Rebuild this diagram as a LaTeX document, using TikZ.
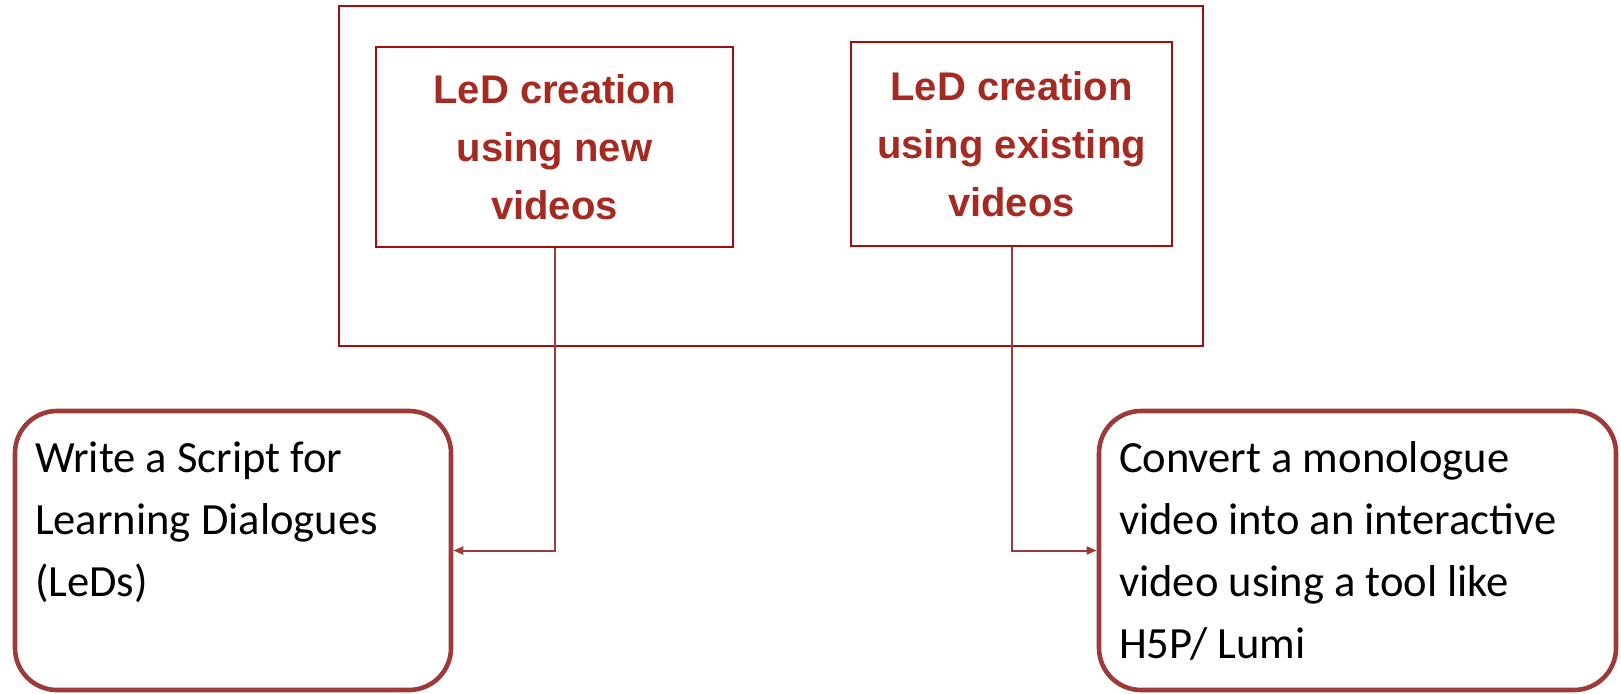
\documentclass[tikz,border=0pt]{standalone}
\usepackage{fontspec}
\setmainfont{Carlito}
\newfontfamily\headfont{Liberation Sans}
\usetikzlibrary{positioning, arrows.meta}
\definecolor{framered}{HTML}{A30D0D}
\definecolor{titlered}{HTML}{A52A22}
\definecolor{boxbrown}{HTML}{9C3B3A}
\definecolor{linkbrown}{HTML}{9E3A3A}

\begin{document}
\begin{tikzpicture}[
    x=0.5pt, y=-0.5pt,
    outerbox/.style={rectangle, draw=framered, line width=1pt,
                     minimum width=432pt, minimum height=170pt, inner sep=0pt},
    mode/.style={rectangle, draw=framered, line width=1pt, text=titlered,
                 align=center, inner sep=0pt,
                 font=\headfont\bfseries\fontsize{20pt}{29pt}\selectfont},
    task/.style={rectangle, rounded corners=21pt, draw=boxbrown, line width=2.3pt,
                 inner xsep=10pt, inner ysep=0pt, minimum height=139.5pt,
                 font=\fontsize{22.3pt}{31pt}\selectfont},
    route/.style={-{Triangle[length=5pt, width=4pt]}, line width=1pt, linkbrown}
  ]
    \useasboundingbox (0,0) rectangle (1621,694);

    \node[outerbox] (group) at (771,176) {};
    \node[mode, minimum width=178.5pt, minimum height=100pt] (new) at (554.5,147)
      {LeD creation\\using new\\videos};
    \node[mode, minimum width=160.5pt, minimum height=102pt] (existing) at (1011.5,144)
      {LeD creation\\using existing\\videos};

    \node[task, minimum width=218pt] (script) at (233,550.5)
      {\parbox[c][139.5pt][t]{198pt}{\rule{0pt}{30.5pt}Write a Script for\\Learning Dialogues\\(LeDs)}};
    \node[task, minimum width=258.5pt] (convert) at (1357.5,550.5)
      {\parbox[c][139.5pt][t]{238.5pt}{\rule{0pt}{30.5pt}Convert a monologue\\video into an interactive\\video using a tool like\\H5P/ Lumi}};

    \draw[route] (new.south) |- (script.east);
    \draw[route] (existing.south) |- (convert.west);
  \end{tikzpicture}
\end{document}
